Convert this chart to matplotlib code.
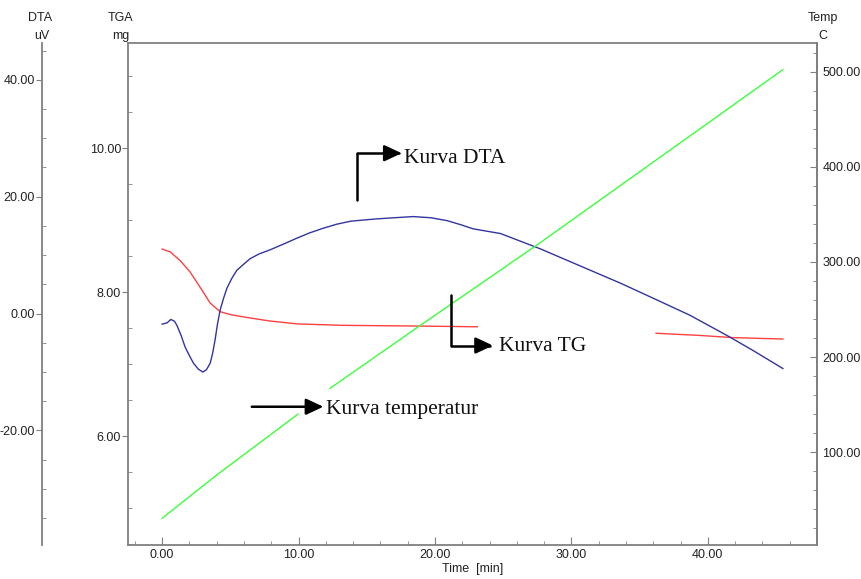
import numpy as np
import matplotlib
matplotlib.use("Agg")
import matplotlib.pyplot as plt
from matplotlib.ticker import MultipleLocator, FormatStrFormatter

plt.rcParams['font.family'] = ['Liberation Sans Narrow', 'Liberation Sans', 'DejaVu Sans']
plt.rcParams['axes.unicode_minus'] = False

# TG curve (mg) - gap where the text box covers it
tg_time = [0.0, 0.59, 1.32, 2.05, 2.78, 3.52, 4.25, 4.98, 6.2, 7.9, 9.9, 13.3, 18.9, 23.1,
           np.nan, 36.2, 39.4, 41.8, 45.5]
tg_mass = [8.60, 8.56, 8.44, 8.28, 8.07, 7.85, 7.73, 7.69, 7.65, 7.60, 7.56, 7.54, 7.53, 7.52,
           np.nan, 7.43, 7.40, 7.37, 7.35]

# DTA curve (uV)
dta_time = [0.0, 0.35, 0.64, 0.9, 1.08, 1.4, 1.68, 2.0, 2.3, 2.65, 2.98, 3.25, 3.52, 3.7,
            3.88, 4.05, 4.25, 4.5, 4.74, 5.1, 5.47, 6.0, 6.45, 7.1, 7.9, 8.9, 9.87,
            10.8, 11.8, 12.8, 13.8, 14.7, 15.7, 17.0, 18.4, 19.7, 20.9, 21.9, 22.8, 24.8,
            27.7, 30.6, 33.6, 36.3, 38.7, 41.6, 43.3, 45.5]
dta_uv = [-1.8, -1.6, -1.0, -1.3, -2.0, -3.8, -5.7, -7.2, -8.5, -9.5, -10.0, -9.6, -8.5, -6.8,
          -4.5, -1.9, 0.6, 2.6, 4.3, 6.0, 7.4, 8.5, 9.4, 10.2, 10.9, 11.9, 12.9,
          13.8, 14.6, 15.3, 15.8, 16.0, 16.2, 16.4, 16.6, 16.4, 15.9, 15.2, 14.5, 13.7,
          11.1, 8.2, 5.2, 2.3, -0.3, -4.0, -6.3, -9.4]

# temperature (C) - gap behind the "Kurva temperatur" label
temp_time = [0.0, 4.0, 9.96, np.nan, 12.3, 18.9, 27.5, 45.5]
temp_c = [30.5, 76, 140, np.nan, 167, 233, 318, 502]

fig = plt.figure(figsize=(8.61, 5.79), dpi=100)
ax = fig.add_axes([0.1487, 0.0587, 0.8002, 0.867])
ax_dta = ax.twinx()
ax_t = ax.twinx()

frame = '#808080'
txt = '#222222'

# main (TGA) axis
ax.plot(tg_time, tg_mass, color='#ff4040', lw=1.0)
ax.set_xlim(-2.5, 48)
ax.set_ylim(4.49, 11.46)
ax.xaxis.set_major_locator(MultipleLocator(10))
ax.xaxis.set_minor_locator(MultipleLocator(2))
ax.xaxis.set_major_formatter(FormatStrFormatter('%.2f'))
ax.yaxis.set_major_locator(MultipleLocator(2))
ax.yaxis.set_minor_locator(MultipleLocator(0.5))
ax.yaxis.set_major_formatter(FormatStrFormatter('%.2f'))
ax.tick_params(axis='x', which='major', direction='in', length=6, color=frame, labelsize=9, labelcolor=txt, pad=3)
ax.tick_params(axis='x', which='minor', direction='in', length=3, color=frame)
ax.tick_params(axis='y', which='major', direction='out', length=4, color=frame, labelsize=9, labelcolor=txt, pad=1)
ax.tick_params(axis='y', which='minor', direction='in', length=3, color=frame)
for s in ax.spines.values():
    s.set_color(frame)
    s.set_linewidth(1.3)
ax.set_xlabel('Time  [min]', fontsize=9, color=txt, labelpad=1)

# DTA axis on the far left
ax_dta.plot(dta_time, dta_uv, color='#3434a0', lw=1.0)
ax_dta.set_ylim(-39.6, 46.3)
ax_dta.yaxis.set_ticks_position('left')
ax_dta.spines['left'].set_position(('axes', -0.125))
ax_dta.spines['left'].set_visible(True)
ax_dta.spines['left'].set_color(frame)
ax_dta.spines['left'].set_linewidth(1.3)
for k in ['right', 'top', 'bottom']:
    ax_dta.spines[k].set_visible(False)
ax_dta.yaxis.set_major_locator(MultipleLocator(20))
ax_dta.yaxis.set_minor_locator(MultipleLocator(5))
ax_dta.yaxis.set_major_formatter(FormatStrFormatter('%.2f'))
ax_dta.tick_params(axis='y', which='major', direction='out', length=4, color=frame, labelsize=9, labelcolor=txt, pad=1)
ax_dta.tick_params(axis='y', which='minor', direction='in', length=3, color=frame)

# temperature axis on the right
ax_t.plot(temp_time, temp_c, color='#3cff3c', lw=1.0)
ax_t.set_ylim(2.4, 530)
ax_t.yaxis.set_major_locator(MultipleLocator(100))
ax_t.yaxis.set_minor_locator(MultipleLocator(20))
ax_t.yaxis.set_major_formatter(FormatStrFormatter('%.2f'))
ax_t.tick_params(axis='y', which='major', direction='in', length=5, color=frame, labelsize=9, labelcolor=txt, pad=4)
ax_t.tick_params(axis='y', which='minor', direction='in', length=3, color=frame)
for k in ['left', 'top', 'bottom']:
    ax_t.spines[k].set_visible(False)
ax_t.spines['right'].set_color(frame)
ax_t.spines['right'].set_linewidth(1.3)

# axis titles
fig.text(40 / 861, 1 - 18 / 579, 'DTA', ha='center', va='center', fontsize=9, color=txt)
fig.text(42 / 861, 1 - 36 / 579, 'uV', ha='center', va='center', fontsize=9, color=txt)
fig.text(121 / 861, 1 - 18 / 579, 'TGA', ha='center', va='center', fontsize=9, color=txt)
fig.text(121 / 861, 1 - 36 / 579, 'mg', ha='center', va='center', fontsize=9, color=txt)
fig.text(823 / 861, 1 - 18 / 579, 'Temp', ha='center', va='center', fontsize=9, color=txt)
fig.text(823 / 861, 1 - 36 / 579, 'C', ha='center', va='center', fontsize=9, color=txt)

# annotation arrows and labels (in TGA data coordinates)
arrow = dict(arrowstyle='-|>,head_length=0.75,head_width=0.35', color='black', lw=1.8,
             shrinkA=0, shrinkB=0, mutation_scale=14)
serif = dict(family=['Liberation Serif', 'DejaVu Serif'], fontsize=15.5, color='#111111')

el = dict(arrow, connectionstyle='angle,angleA=90,angleB=0,rad=0')
ax_t.annotate('', xy=(17.56, 9.93), xytext=(14.26, 9.28), xycoords=ax.transData,
              textcoords=ax.transData, arrowprops=el)
ax_t.text(17.7, 9.86, 'Kurva DTA', transform=ax.transData, va='center', ha='left', **serif)

ax_t.annotate('', xy=(24.25, 7.26), xytext=(21.17, 7.96), xycoords=ax.transData,
              textcoords=ax.transData, arrowprops=el)
ax_t.text(24.7, 7.25, 'Kurva TG', transform=ax.transData, va='center', ha='left', **serif)

ax_t.annotate('', xy=(11.82, 6.41), xytext=(6.57, 6.41), xycoords=ax.transData,
              textcoords=ax.transData, arrowprops=arrow)
ax_t.text(12.0, 6.37, 'Kurva temperatur', transform=ax.transData, va='center', ha='left', **serif)

fig.savefig('out.png', dpi=100)
